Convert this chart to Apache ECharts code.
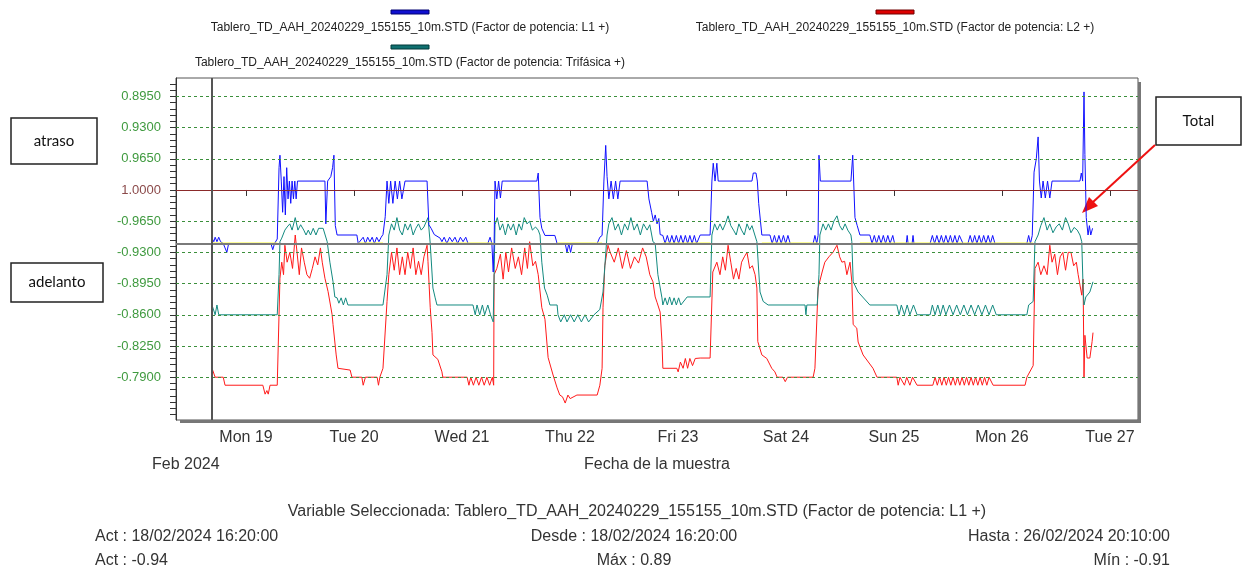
<!DOCTYPE html>
<html>
<head>
<meta charset="utf-8">
<script src="https://cdn.jsdelivr.net/npm/echarts@6/dist/echarts.min.js"></script>
<style>
  html, body { margin: 0; background: #fff; }
  #chart { width: 1247px; height: 572px; }
</style>
</head>
<body>
<div id="chart"></div>
<script>
// inicio de la muestra 18/02/2024 16:20, puntos en [horas desde inicio, factor de potencia]
var startTime = new Date(2024, 1, 18, 16, 20).getTime();
var HOUR = 3600 * 1000;

var nameL1 = "Tablero_TD_AAH_20240229_155155_10m.STD (Factor de potencia: L1 +)";
var nameL2 = "Tablero_TD_AAH_20240229_155155_10m.STD (Factor de potencia: L2 +)";
var nameTri = "Tablero_TD_AAH_20240229_155155_10m.STD (Factor de potencia: Trifásica +)";

var yTicks = [0.895, 0.93, 0.965, 1.0, -0.965, -0.93, -0.895, -0.86, -0.825, -0.79];
var dayDates = ["2024-02-19", "2024-02-20", "2024-02-21", "2024-02-22", "2024-02-23",
                "2024-02-24", "2024-02-25", "2024-02-26", "2024-02-27"];
var dayLabels = ["Mon 19", "Tue 20", "Wed 21", "Thu 22", "Fri 23", "Sat 24", "Sun 25", "Mon 26", "Tue 27"];

var actValue = -0.94;

var l1Points = [
  [0,-0.947],[0.5,-0.942],[0.8,-0.947],[1.2,-0.942],[1.6,-0.947],[2,-0.942],[2.6,-0.94],[3.0,-0.935],[3.4,-0.93],[3.8,-0.94],
  [13.2,-0.94],[13.6,-0.933],[14.0,-0.94],[14.6,-0.945],
  [15.0,0.975],[15.2,0.961],[15.5,0.99],[15.8,-0.975],[16.1,0.985],[16.4,-0.972],[16.7,0.975],[17.0,-0.99],[17.3,0.99],
  [17.6,-0.985],[17.9,0.99],[18.2,-0.99],[18.5,0.99],[18.8,-0.99],[19.1,0.99],
  [25.2,0.99],[25.4,-0.962],[25.8,0.99],[26.5,0.985],[26.9,0.975],[27.2,0.961],[27.5,-0.96],[27.9,-0.9495],[32.3,-0.9495],[32.6,-0.94],
  [33.7,-0.947],[34.2,-0.94],[34.7,-0.947],[35.2,-0.942],[35.7,-0.947],[36.2,-0.94],[36.7,-0.947],[37.2,-0.942],[37.7,-0.947],[38.1,-0.95],
  [38.6,-0.97],[39.0,0.99],[39.4,-0.985],[39.8,0.99],[40.3,-0.985],[40.8,0.99],[41.3,-0.99],[41.8,0.99],[42.3,-0.99],[43.0,0.99],
  [47.9,0.99],[48.3,-0.961],[48.8,-0.957],[49.5,-0.95],[50.8,-0.946],
  [51.2,-0.942],[51.7,-0.947],[52.3,-0.94],[52.9,-0.947],[53.5,-0.942],[54.1,-0.947],[54.7,-0.94],[55.3,-0.947],[55.9,-0.942],[56.5,-0.947],[57.0,-0.94],
  [61.4,-0.94],[61.9,-0.947],[62.3,-0.94],[62.6,-0.908],[62.8,-0.94],[63.0,0.99],[63.4,-0.99],[63.8,0.99],[64.2,-0.991],[64.6,0.99],[65.2,0.99],
  [72.3,0.99],[72.6,0.981],[73.0,-0.969],[73.4,-0.957],[74.1,-0.949],[76.3,-0.949],[76.8,-0.94],
  [78.6,-0.94],[79.0,-0.93],[79.4,-0.94],[79.8,-0.93],[80.2,-0.94],
  [85.7,-0.94],[86.3,-0.947],[86.8,-0.949],[87.2,0.99],[87.6,0.95],[87.9,0.985],[88.3,-0.99],[88.8,0.99],[89.3,-0.99],[89.8,0.99],[90.3,-0.99],[90.8,0.99],
  [96.8,0.99],[97.2,-0.99],[97.8,-0.975],[98.2,-0.965],[98.6,-0.972],[99.0,-0.962],[99.4,-0.968],[99.7,-0.95],[100.3,-0.949],
  [100.8,-0.94],[101.3,-0.949],[101.8,-0.94],[102.3,-0.949],[102.8,-0.94],[103.3,-0.949],[103.8,-0.94],[104.3,-0.949],[104.8,-0.94],
  [105.3,-0.949],[105.8,-0.94],[106.3,-0.949],[106.8,-0.94],[107.3,-0.949],[107.8,-0.94],[108.6,-0.9495],[110.8,-0.9495],
  [111.2,0.99],[111.5,0.97],[111.9,0.99],[112.3,0.97],[112.6,0.99],[120.1,0.99],[120.4,0.981],[121.0,0.981],[121.3,0.99],[121.6,-0.985],[122.3,-0.9495],[124.1,-0.9495],
  [124.6,-0.94],[125.1,-0.949],[125.6,-0.94],[126.1,-0.949],[126.6,-0.94],[127.1,-0.949],[127.6,-0.94],[128.1,-0.949],[128.6,-0.94],[129.2,-0.94],
  [133.7,-0.94],[134.1,-0.949],[134.5,-0.94],[134.8,-0.949],[135.0,0.961],[135.3,0.99],
  [142.1,0.99],[142.5,0.961],[143.0,-0.969],[143.5,-0.96],[144.1,-0.9495],[146.3,-0.9495],
  [146.8,-0.94],[147.3,-0.949],[147.8,-0.94],[148.3,-0.949],[148.8,-0.94],[149.3,-0.949],[149.8,-0.94],[150.3,-0.949],[150.8,-0.94],[151.4,-0.949],[151.8,-0.94],
  [154.4,-0.94],[154.6,-0.949],[154.8,-0.94],[155.7,-0.94],[155.9,-0.949],[156.1,-0.94],
  [159.7,-0.94],[160.2,-0.949],[160.7,-0.94],[161.2,-0.949],[161.7,-0.94],[162.2,-0.949],[162.7,-0.94],[163.2,-0.949],[163.7,-0.94],
  [164.2,-0.949],[164.7,-0.94],[165.2,-0.949],[165.7,-0.94],[166.2,-0.949],[167.0,-0.94],
  [168.1,-0.94],[168.6,-0.949],[169.1,-0.94],[169.6,-0.949],[170.1,-0.94],[170.6,-0.949],[171.1,-0.94],[171.6,-0.949],[172.1,-0.94],
  [172.6,-0.949],[173.1,-0.94],[173.6,-0.949],[174.1,-0.94],[174.8,-0.94],
  [181.2,-0.94],[181.6,-0.949],[182.0,-0.94],[182.4,-0.949],[182.8,0.98],[183.3,0.965],[183.7,0.9405],[184.0,0.99],[184.4,-0.991],
  [184.8,0.99],[185.3,-0.991],[185.8,0.99],[186.3,-0.991],[186.8,0.99],[193.0,0.99],[193.3,0.981],[193.6,0.99],[193.9,0.89],
  [194.1,0.96],[194.4,-0.969],[194.8,-0.9495],[195.1,-0.96],[195.4,-0.9495],[195.8,-0.957]
];

var l2Points = [
  [0.1,-0.80],[0.8,-0.79],[2.6,-0.79],[3.0,-0.781],[11.4,-0.781],[11.9,-0.771],[12.3,-0.775],[12.6,-0.771],[13.0,-0.781],[14.6,-0.781],
  [15.2,-0.901],[15.6,-0.919],[16.0,-0.905],[16.3,-0.938],[16.8,-0.919],[17.4,-0.93],[18.0,-0.912],[18.6,-0.9495],[19.0,-0.93],
  [19.5,-0.905],[20.0,-0.935],[20.6,-0.919],[21.2,-0.905],[21.8,-0.901],[22.4,-0.912],[23.0,-0.925],[23.6,-0.916],[24.2,-0.935],
  [24.6,-0.919],[25.2,-0.901],[25.9,-0.886],[26.8,-0.86],[27.0,-0.849],[27.7,-0.815],[28.1,-0.80],[30.8,-0.798],[31.2,-0.79],
  [33.4,-0.79],[33.7,-0.781],[34.2,-0.79],[36.8,-0.79],[37.1,-0.781],[37.4,-0.79],[38.1,-0.80],
  [39.0,-0.875],[39.4,-0.905],[40.0,-0.93],[40.6,-0.91],[41.2,-0.935],[41.8,-0.905],[42.4,-0.925],[43.0,-0.905],[43.6,-0.93],
  [44.2,-0.912],[44.8,-0.935],[45.4,-0.905],[46.0,-0.92],[46.6,-0.905],[47.2,-0.925],[47.9,-0.938],[48.1,-0.92],
  [48.6,-0.868],[49.0,-0.84],[49.2,-0.815],[50.3,-0.81],[51.2,-0.796],[51.4,-0.79],[56.8,-0.79],
  [57.2,-0.781],[57.6,-0.79],[58.2,-0.781],[58.8,-0.79],[59.4,-0.781],[60.0,-0.79],[60.6,-0.781],[61.2,-0.79],[61.8,-0.781],[62.4,-0.79],[62.7,-0.781],
  [62.8,-0.905],[63.4,-0.912],[64.2,-0.928],[64.8,-0.90],[65.4,-0.93],[66.0,-0.908],[66.7,-0.935],[67.5,-0.912],[68.2,-0.925],
  [68.9,-0.905],[69.6,-0.935],[70.2,-0.912],[70.7,-0.942],[71.4,-0.915],[72.0,-0.92],[72.6,-0.905],
  [73.4,-0.868],[74.1,-0.855],[74.8,-0.812],[75.9,-0.7925],[76.8,-0.778],[77.4,-0.77],[78.0,-0.768],[78.6,-0.761],[79.2,-0.77],
  [79.7,-0.766],[81.2,-0.77],[85.7,-0.77],[86.3,-0.781],[86.8,-0.80],
  [87.0,-0.868],[87.4,-0.915],[88.1,-0.938],[88.6,-0.93],[89.5,-0.919],[90.4,-0.935],[91.3,-0.912],[92.2,-0.932],[93.1,-0.912],
  [94.0,-0.925],[94.9,-0.918],[95.8,-0.935],[96.6,-0.925],[97.4,-0.905],[98.1,-0.897],[98.6,-0.88],[99.0,-0.874],[99.7,-0.863],
  [100.1,-0.83],[100.3,-0.80],[103.4,-0.80],[103.7,-0.796],[104.2,-0.807],[104.8,-0.80],[105.3,-0.811],[105.8,-0.80],[106.3,-0.811],
  [106.9,-0.803],[107.5,-0.811],[108.6,-0.8115],[110.8,-0.8115],
  [111.4,-0.908],[112.3,-0.919],[113.0,-0.905],[113.6,-0.925],[114.2,-0.91],[114.8,-0.938],[115.4,-0.919],[116.0,-0.90],[116.6,-0.912],
  [117.2,-0.90],[117.8,-0.919],[118.4,-0.925],[119.0,-0.93],[119.6,-0.912],[120.2,-0.915],[120.8,-0.905],[121.2,-0.89],
  [121.4,-0.83],[122.3,-0.815],[123.4,-0.811],[124.5,-0.80],[125.2,-0.796],[125.7,-0.79],[127.0,-0.79],[127.5,-0.785],[128.0,-0.79],[133.7,-0.79],
  [134.1,-0.80],[134.8,-0.89],[135.7,-0.908],[136.3,-0.919],[137.2,-0.925],[138.1,-0.93],[139.0,-0.938],[139.6,-0.925],[140.1,-0.919],
  [140.7,-0.92],[141.2,-0.905],[141.9,-0.919],[142.3,-0.897],[142.6,-0.849],[143.4,-0.845],[143.7,-0.8295],[144.8,-0.815],[147.0,-0.80],[147.9,-0.79],
  [152.3,-0.79],[152.6,-0.781],[153.0,-0.79],[154.0,-0.781],[154.5,-0.79],[155.2,-0.781],[155.8,-0.79],[156.8,-0.781],[160.3,-0.781],
  [160.8,-0.79],[161.3,-0.781],[161.8,-0.79],[162.3,-0.781],[162.8,-0.79],[163.3,-0.781],[163.8,-0.79],[164.3,-0.781],[164.8,-0.79],
  [165.3,-0.781],[165.8,-0.79],[166.3,-0.781],[166.8,-0.79],[167.3,-0.781],[167.8,-0.79],[168.3,-0.781],[168.8,-0.79],[169.3,-0.781],
  [169.8,-0.79],[170.3,-0.781],[170.8,-0.79],[171.3,-0.781],[171.8,-0.79],[172.3,-0.781],[172.8,-0.79],[173.7,-0.781],[180.8,-0.781],
  [181.2,-0.79],[182.6,-0.803],[183.0,-0.912],[183.7,-0.919],[184.3,-0.905],[185.0,-0.915],[185.7,-0.905],[186.3,-0.938],[186.8,-0.919],
  [187.4,-0.928],[188.0,-0.905],[188.6,-0.925],[189.2,-0.93],[189.8,-0.91],[190.4,-0.93],[191.0,-0.93],[191.6,-0.915],[192.2,-0.919],
  [192.6,-0.905],[193.0,-0.904],[193.4,-0.882],[193.7,-0.90],[193.9,-0.79],[194.1,-0.837],[194.6,-0.8115],[195.2,-0.8115],[195.7,-0.83],[195.9,-0.84]
];

var triPoints = [
  [0.1,-0.871],[0.5,-0.871],[0.8,-0.86],[1.2,-0.871],[1.6,-0.86],[14.6,-0.86],
  [15.0,-0.905],[15.2,-0.942],[15.6,-0.946],[16.3,-0.955],[16.8,-0.9585],[17.4,-0.962],[17.9,-0.955],[18.6,-0.969],[19.2,-0.955],
  [19.8,-0.961],[20.5,-0.955],[21.0,-0.9495],[21.5,-0.955],[22.0,-0.9495],[22.6,-0.957],[23.2,-0.9495],[23.8,-0.957],[24.8,-0.957],
  [25.7,-0.942],[26.3,-0.919],[27.0,-0.897],[27.4,-0.88],[27.9,-0.879],[28.3,-0.873],[28.8,-0.879],[29.3,-0.871],[29.8,-0.879],
  [30.3,-0.871],[38.1,-0.871],
  [39.0,-0.905],[39.4,-0.9495],[40.0,-0.962],[40.6,-0.955],[41.2,-0.969],[41.8,-0.955],[42.4,-0.9495],[43.0,-0.962],[43.6,-0.955],
  [44.2,-0.962],[44.8,-0.9495],[45.4,-0.957],[46.0,-0.962],[46.6,-0.955],[47.2,-0.9585],[48.1,-0.969],
  [48.6,-0.94],[49.2,-0.89],[49.7,-0.879],[50.1,-0.871],[58.1,-0.871],[58.6,-0.86],[59.0,-0.871],[59.6,-0.86],[60.2,-0.871],
  [60.7,-0.86],[61.4,-0.871],[62.0,-0.86],[62.6,-0.852],
  [63.0,-0.961],[63.5,-0.969],[64.1,-0.955],[64.7,-0.962],[65.3,-0.9495],[65.9,-0.962],[66.5,-0.955],[67.1,-0.962],[67.7,-0.9495],
  [68.3,-0.962],[68.9,-0.955],[69.5,-0.969],[70.1,-0.962],[70.7,-0.965],[71.3,-0.955],[72.0,-0.9585],[72.6,-0.955],[73.0,-0.9495],
  [73.4,-0.919],[74.0,-0.89],[74.6,-0.882],[75.2,-0.871],[76.8,-0.871],[77.0,-0.86],[77.6,-0.852],[78.4,-0.86],[79.0,-0.852],
  [79.8,-0.86],[80.6,-0.852],[81.4,-0.86],[82.2,-0.852],[83.0,-0.86],[83.8,-0.852],[85.0,-0.86],[86.3,-0.866],
  [87.0,-0.8856],[87.9,-0.9495],[88.3,-0.962],[89.0,-0.969],[89.7,-0.955],[90.4,-0.962],[91.1,-0.9495],[91.8,-0.962],[92.5,-0.955],
  [93.2,-0.969],[93.9,-0.955],[94.6,-0.962],[95.3,-0.9495],[96.0,-0.962],[96.8,-0.955],[97.4,-0.961],[98.1,-0.942],[98.6,-0.94],
  [99.2,-0.905],[100.1,-0.879],[100.3,-0.871],[100.8,-0.879],[101.3,-0.871],[101.8,-0.88],[102.3,-0.871],[102.8,-0.879],
  [103.3,-0.871],[103.8,-0.879],[104.3,-0.871],[105.7,-0.88],[110.8,-0.88],
  [111.2,-0.9495],[111.8,-0.962],[112.4,-0.955],[113.0,-0.962],[113.6,-0.955],[114.2,-0.962],[114.8,-0.971],[115.4,-0.96],
  [116.0,-0.955],[116.6,-0.9495],[117.2,-0.962],[117.8,-0.955],[118.4,-0.9495],[119.0,-0.962],[119.6,-0.955],[120.1,-0.96],
  [121.2,-0.942],[121.9,-0.8856],[122.6,-0.875],[123.7,-0.871],[131.9,-0.871],[132.1,-0.86],[132.3,-0.871],[134.6,-0.871],
  [135.0,-0.905],[135.2,-0.9495],[135.9,-0.962],[136.5,-0.955],[137.1,-0.962],[137.7,-0.955],[138.3,-0.965],[139.0,-0.971],
  [139.6,-0.96],[140.2,-0.955],[140.8,-0.962],[141.4,-0.955],[142.1,-0.9495],[142.3,-0.942],[142.6,-0.897],[143.7,-0.8856],
  [146.3,-0.871],[152.3,-0.871],[152.8,-0.86],[153.3,-0.871],[154.0,-0.86],[154.6,-0.871],[155.2,-0.86],[156.0,-0.871],[156.8,-0.86],
  [159.7,-0.86],[160.2,-0.871],[160.8,-0.86],[161.4,-0.871],[162.0,-0.86],[162.6,-0.871],[163.2,-0.86],[164.0,-0.871],[164.8,-0.86],
  [165.6,-0.871],[166.4,-0.86],[167.2,-0.871],[168.0,-0.86],[168.8,-0.871],[169.6,-0.86],[170.4,-0.871],[171.2,-0.86],[172.0,-0.871],
  [172.8,-0.86],[173.6,-0.871],[174.4,-0.86],[181.2,-0.86],[181.6,-0.871],[182.6,-0.875],
  [183.0,-0.942],[183.7,-0.9495],[184.3,-0.96],[185.0,-0.969],[185.7,-0.955],[186.3,-0.962],[187.0,-0.952],[187.7,-0.9585],
  [188.4,-0.962],[189.1,-0.955],[189.8,-0.969],[190.4,-0.962],[191.0,-0.952],[191.7,-0.958],[192.4,-0.955],[193.0,-0.9495],
  [193.4,-0.942],[193.7,-0.89],[193.9,-0.871],[194.3,-0.88],[194.6,-0.882],[195.2,-0.8856],[195.9,-0.897]
];

// tramos nocturnos de la traza amarilla (horas desde inicio)
var yellowSegments = [[0.1, 14.6], [32.6, 38.1], [50.8, 62.6], [76.8, 86.8], [100.3, 110.8], [122.3, 134.8], [144.1, 182.6]];

// eje: atraso (positivo) arriba de 1, adelanto (negativo) abajo
function toAxis(pf) {
  return pf > 0 ? 1 - pf : -1 - pf;
}
function axisText(u) {
  if (Math.abs(u) < 1e-6) return "1.0000";
  return u > 0 ? (1 - u).toFixed(4) : (-1 - u).toFixed(4);
}
function toPoints(arr) {
  return arr.map(function (d) {
    return [startTime + d[0] * HOUR, toAxis(d[1])];
  });
}

var dayTs = dayDates.map(function (s) { return new Date(s + "T00:00:00").getTime(); });

var yellowData = [];
yellowSegments.forEach(function (s) {
  yellowData.push([startTime + s[0] * HOUR, toAxis(actValue)]);
  yellowData.push([startTime + s[1] * HOUR, toAxis(actValue)]);
  yellowData.push([startTime + (s[1] + 0.1) * HOUR, "-"]);
});

var minorTicks = [];
for (var k = -36; k <= 17; k++) minorTicks.push(k * 0.007);

var gridLines = yTicks.filter(function (v) { return v !== 1.0; }).map(function (v) {
  return { yAxis: toAxis(v), lineStyle: { color: "#3b8f3b", type: [3, 3], width: 1 } };
});
gridLines.push({ yAxis: 0, lineStyle: { color: "#8b2a2a", type: "solid", width: 1 } });
gridLines.push({ yAxis: toAxis(actValue), lineStyle: { color: "#7a7a7a", type: "solid", width: 2 } });
gridLines.push({ xAxis: startTime, lineStyle: { color: "#555", type: "solid", width: 2 } });

var txt = "Liberation Sans";

function legendItem(cx, barY, color, stroke, label) {
  return [
    { type: "rect", shape: { x: cx - 19, y: barY, width: 38, height: 4 },
      style: { fill: color, stroke: stroke, lineWidth: 1 } },
    { type: "text", x: cx, y: barY + 18,
      style: { text: label, font: "12px " + txt, fill: "#222", align: "center", verticalAlign: "middle" } }
  ];
}

function box(x, y, w, h, label) {
  return [
    { type: "rect", shape: { x: x, y: y, width: w, height: h },
      style: { fill: "#fff", stroke: "#222", lineWidth: 1.5 } },
    { type: "text", x: x + w / 2, y: y + h / 2,
      style: { text: label, font: "15px Lato", fill: "#111", align: "center", verticalAlign: "middle" } }
  ];
}

function label(x, y, s, align) {
  return { type: "text", x: x, y: y,
    style: { text: s, font: "16px " + txt, fill: "#333", align: align, verticalAlign: "middle" } };
}

var chart = echarts.init(document.getElementById("chart"));
chart.setOption({
  animation: false,
  backgroundColor: "#fff",
  grid: {
    left: 176, right: 109, top: 78, bottom: 152,
    show: true, backgroundColor: "#fff", borderColor: "#555", borderWidth: 1
  },
  xAxis: {
    type: "value",
    min: startTime - 7.9 * HOUR,
    max: startTime + 205.9 * HOUR,
    axisLine: { show: true, lineStyle: { color: "#555" } },
    axisTick: { show: true, customValues: dayTs, length: 6, lineStyle: { color: "#333" } },
    axisLabel: {
      customValues: dayTs,
      fontFamily: txt, fontSize: 16, color: "#333", margin: 10,
      formatter: function (v) {
        var i = dayTs.indexOf(Number(v));
        return i >= 0 ? dayLabels[i] : "";
      }
    },
    splitLine: { show: false },
    name: "Fecha de la muestra",
    nameLocation: "middle",
    nameGap: 37,
    nameTextStyle: { fontFamily: txt, fontSize: 16, color: "#333" }
  },
  yAxis: {
    type: "value",
    min: -0.258,
    max: 0.1256,
    axisLine: { show: true, lineStyle: { color: "#333" } },
    axisTick: { show: true, customValues: minorTicks, length: 6, lineStyle: { color: "#333" } },
    axisLabel: {
      customValues: yTicks.map(toAxis),
      fontFamily: txt, fontSize: 13, margin: 15,
      formatter: function (v) { return axisText(v); },
      color: function (v) { return Math.abs(Number(v)) < 1e-6 ? "#8b4a4a" : "#3f9a3f"; }
    },
    splitLine: { show: false }
  },
  series: [
    {
      name: nameL2, type: "line", showSymbol: false, symbol: "none",
      lineStyle: { color: "#ff1a1a", width: 1 },
      data: toPoints(l2Points),
      markLine: { silent: true, precision: 5, symbol: ["none", "none"], label: { show: false }, data: gridLines }
    },
    {
      name: nameTri, type: "line", showSymbol: false, symbol: "none",
      lineStyle: { color: "#138a80", width: 1 },
      data: toPoints(triPoints)
    },
    {
      name: nameL1, type: "line", showSymbol: false, symbol: "none",
      lineStyle: { color: "#1010ff", width: 1 },
      data: toPoints(l1Points)
    },
    {
      name: "amarillo", type: "line", showSymbol: false, symbol: "none",
      lineStyle: { color: "#ffff33", width: 2 },
      data: yellowData
    }
  ],
  graphic: [].concat(
    // sombra del marco, abajo y a la derecha
    [
      { type: "rect", shape: { x: 180, y: 420, width: 961, height: 3 }, style: { fill: "#777" } },
      { type: "rect", shape: { x: 1138, y: 82, width: 3, height: 341 }, style: { fill: "#777" } }
    ],
    legendItem(410, 10, "#1010d0", "#000070", nameL1),
    legendItem(895, 10, "#dd0000", "#700000", nameL2),
    legendItem(410, 45, "#107070", "#003838", nameTri),
    box(11, 118, 86, 46, "atraso"),
    box(11, 263, 92, 39, "adelanto"),
    box(1156, 97, 85, 48, "Total"),
    [
      { type: "line", shape: { x1: 1155, y1: 145, x2: 1093, y2: 202 },
        style: { stroke: "#ee1111", lineWidth: 2 } },
      { type: "polygon", shape: { points: [[1082, 213], [1098, 206], [1089, 197]] },
        style: { fill: "#ee1111" } },
      label(152, 465, "Feb 2024", "left"),
      label(637, 512, "Variable Seleccionada: " + nameL1, "center"),
      label(95, 537, "Act : 18/02/2024 16:20:00", "left"),
      label(634, 537, "Desde : 18/02/2024 16:20:00", "center"),
      label(1170, 537, "Hasta : 26/02/2024 20:10:00", "right"),
      label(95, 561, "Act : -0.94", "left"),
      label(634, 561, "Máx : 0.89", "center"),
      label(1170, 561, "Mín : -0.91", "right")
    ]
  )
});
</script>
</body>
</html>
